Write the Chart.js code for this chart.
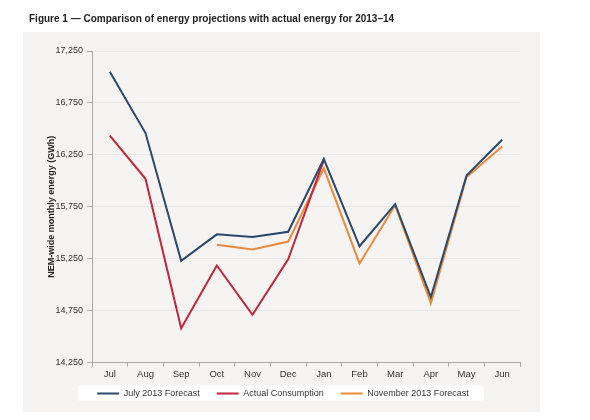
<!DOCTYPE html>
<html>
<head>
<meta charset="utf-8">
<script src="https://cdn.jsdelivr.net/npm/chart.js@4.4.0/dist/chart.umd.min.js"></script>
<style>
  html, body { margin: 0; padding: 0; background: #ffffff; }
  #wrap { position: relative; width: 590px; height: 420px; }
  #title { position: absolute; left: 29px; top: 13px; font-family: "Liberation Sans", Arial, sans-serif; font-weight: bold; font-size: 10px; color: #222; white-space: nowrap; }
  canvas { position: absolute; left: 0; top: 0; }
</style>
</head>
<body>
<div id="wrap">
  <canvas id="c" width="590" height="420"></canvas>
  <div id="title">Figure 1 — Comparison of energy projections with actual energy for 2013–14</div>
</div>
<script>
const months = ['Jul','Aug','Sep','Oct','Nov','Dec','Jan','Feb','Mar','Apr','May','Jun'];
const julyForecast = [17050, 16460, 15230, 15485, 15460, 15510, 16210, 15370, 15775, 14880, 16050, 16395];
const actualConsumption = [16435, 16020, 14580, 15185, 14710, 15245, 16200, null, null, null, null, null];
const novForecast = [null, null, null, 15385, 15340, 15415, 16120, 15205, 15765, 14822, 16035, 16330];
const yTicks = [14250, 14750, 15250, 15750, 16250, 16750, 17250];

const FONT = '"Liberation Sans", Arial, sans-serif';

const panelPlugin = {
  id: 'panel',
  afterLayout(chart) {
    const lg = chart.legend;
    if (lg) { lg.top -= 10; lg.bottom -= 10; }
  },
  beforeDraw(chart) {
    const ctx = chart.ctx;
    ctx.save();
    ctx.fillStyle = '#f6f4f3';
    ctx.fillRect(23, 32, 517, 380);
    const lg = chart.legend;
    if (lg && lg.legendHitBoxes && lg.legendHitBoxes.length) {
      const hb = lg.legendHitBoxes;
      const minX = Math.min(...hb.map(h => h.left));
      const maxX = Math.max(...hb.map(h => h.left + h.width));
      const cy = hb[0].top + hb[0].height / 2;
      ctx.fillStyle = '#ffffff';
      ctx.fillRect(minX - 19, cy - 8, (maxX - minX) + 34, 15);
    }
    ctx.restore();
  }
};

new Chart(document.getElementById('c'), {
  type: 'line',
  data: {
    labels: months,
    datasets: [
      { label: 'July 2013 Forecast', data: julyForecast, borderColor: '#2b4868', backgroundColor: '#2b4868', borderWidth: 2, pointRadius: 0, tension: 0 },
      { label: 'Actual Consumption', data: actualConsumption, borderColor: '#c1263d', backgroundColor: '#c1263d', borderWidth: 2, pointRadius: 0, tension: 0, spanGaps: false },
      { label: 'November 2013 Forecast', data: novForecast, borderColor: '#e98a3c', backgroundColor: '#e98a3c', borderWidth: 2, pointRadius: 0, tension: 0 }
    ]
  },
  options: {
    responsive: false,
    animation: false,
    devicePixelRatio: 1,
    layout: { padding: { left: 46, right: 70, top: 51, bottom: 2 } },
    plugins: {
      title: { display: false },
      tooltip: { enabled: false },
      legend: {
        position: 'bottom',
        labels: {
          usePointStyle: true,
          pointStyle: 'line',
          pointStyleWidth: 22,
          padding: 17,
          color: '#333',
          font: { family: FONT, size: 9 }
        }
      }
    },
    scales: {
      x: {
        offset: true,
        grid: { display: true, drawOnChartArea: false, offset: true, tickLength: 4, tickColor: '#aaa' },
        border: { color: '#aaa', width: 1 },
        ticks: { color: '#333', font: { family: FONT, size: 9.5 }, padding: 2, maxRotation: 0 }
      },
      y: {
        min: 14250,
        max: 17250,
        afterBuildTicks(scale) { scale.ticks = yTicks.map(v => ({ value: v })); },
        afterFit(scale) { scale.width = 46; },
        grid: { color: '#ebe7e4', tickColor: '#aaa', tickLength: 5 },
        border: { color: '#aaa', width: 1 },
        ticks: { color: '#333', font: { family: FONT, size: 9 }, padding: 4, callback: v => v.toLocaleString('en-US') },
        title: { display: true, text: 'NEM-wide monthly energy (GWh)', color: '#222', font: { family: FONT, size: 9, weight: 'bold' }, padding: { top: 0, bottom: 0 } }
      }
    }
  },
  plugins: [panelPlugin]
});
</script>
</body>
</html>
